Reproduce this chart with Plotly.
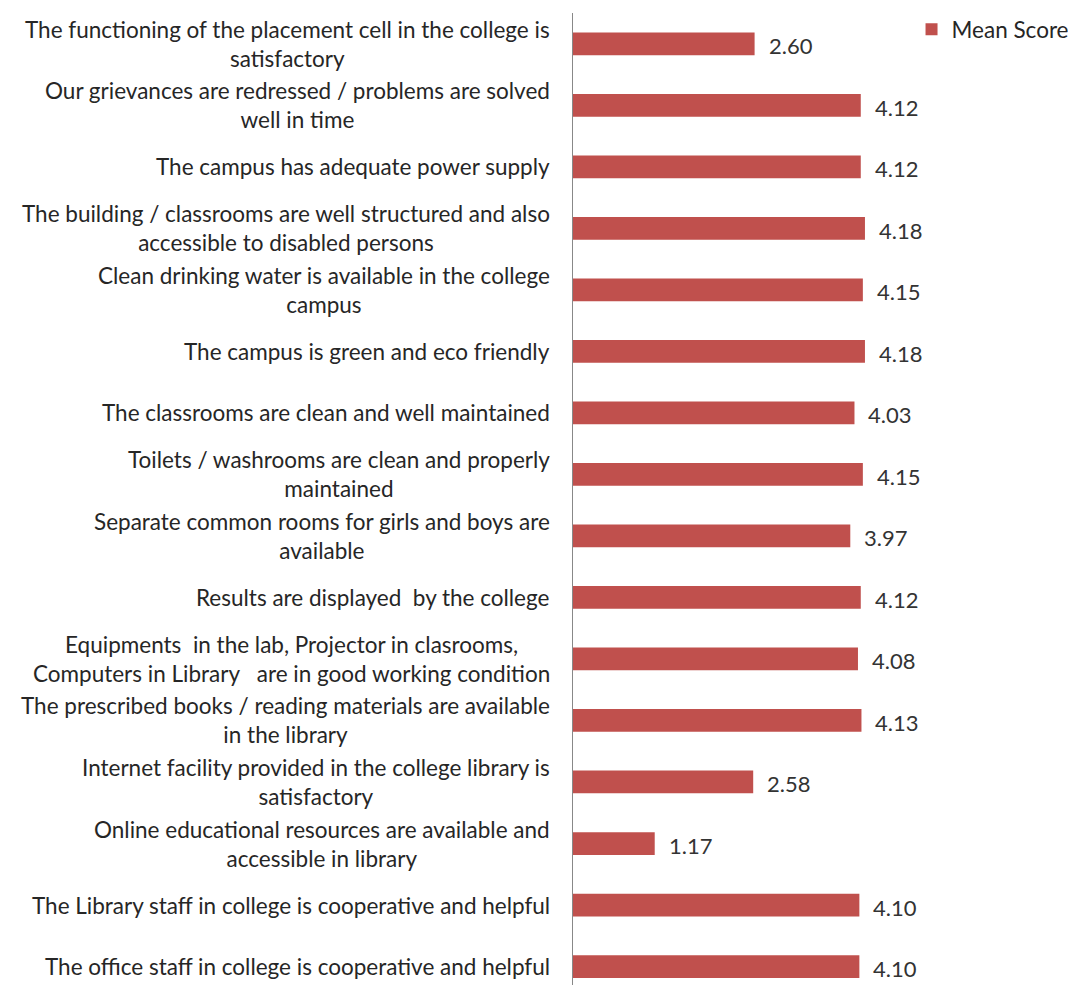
import plotly.graph_objects as go

categories = [
    "The functioning of the placement cell in the college is<br>satisfactory",
    "Our grievances are redressed / problems are solved<br>well in time",
    "The campus has adequate power supply",
    "The building / classrooms are well structured and also<br>accessible to disabled persons",
    "Clean drinking water is available in the college<br>campus",
    "The campus is green and eco friendly",
    "The classrooms are clean and well maintained",
    "Toilets / washrooms are clean and properly<br>maintained",
    "Separate common rooms for girls and boys are<br>available",
    "Results are displayed  by the college",
    "Equipments  in the lab, Projector in clasrooms,<br>Computers in Library   are in good working condition",
    "The prescribed books / reading materials are available<br>in the library",
    "Internet facility provided in the college library is<br>satisfactory",
    "Online educational resources are available and<br>accessible in library",
    "The Library staff in college is cooperative and helpful",
    "The office staff in college is cooperative and helpful",
]
mean_scores = [2.60, 4.12, 4.12, 4.18, 4.15, 4.18, 4.03, 4.15, 3.97, 4.12, 4.08, 4.13, 2.58, 1.17, 4.10, 4.10]
series_name = "Mean Score"

BAR = "#C0504D"
FONT = "Lato, 'Open Sans', sans-serif"
TXT = "#262626"

ids = [f"c{i}" for i in range(len(categories))]

fig = go.Figure()
fig.add_trace(go.Bar(
    x=mean_scores, y=ids, orientation="h", name=series_name,
    marker=dict(color=BAR, line=dict(width=0)), width=0.37,
    showlegend=True,
))

annotations = []
for cid, cat, v in zip(ids, categories, mean_scores):
    annotations.append(dict(
        x=0, xref="paper", y=cid, yref="y", text=cat, showarrow=False,
        xanchor="right", yanchor="middle", align="center", xshift=-21,
        font=dict(family=FONT, size=22.5, color=TXT),
    ))
    annotations.append(dict(
        x=v, xref="x", y=cid, yref="y", text=f"{v:.2f}", showarrow=False,
        xanchor="left", yanchor="middle", xshift=12, yshift=-2,
        font=dict(family=FONT, size=22, color="#333333"),
    ))

fig.update_layout(
    width=1068, height=985,
    margin=dict(l=565, r=49, t=5, b=0, autoexpand=False),
    paper_bgcolor="white", plot_bgcolor="white",
    bargap=0.63,
    xaxis=dict(range=[0, 6.5], visible=False, fixedrange=True),
    yaxis=dict(type="category", range=[15.43, -0.5], showline=True,
               linecolor="#888888", linewidth=1, showticklabels=False,
               ticks="", showgrid=False, zeroline=False),
    legend=dict(xref="container", yref="container", x=0.846, y=1.008,
                xanchor="left", yanchor="top",
                font=dict(family=FONT, size=22.5, color=TXT),
                itemwidth=30, bgcolor="rgba(0,0,0,0)"),
    annotations=annotations,
)

fig.write_html("out.html")
